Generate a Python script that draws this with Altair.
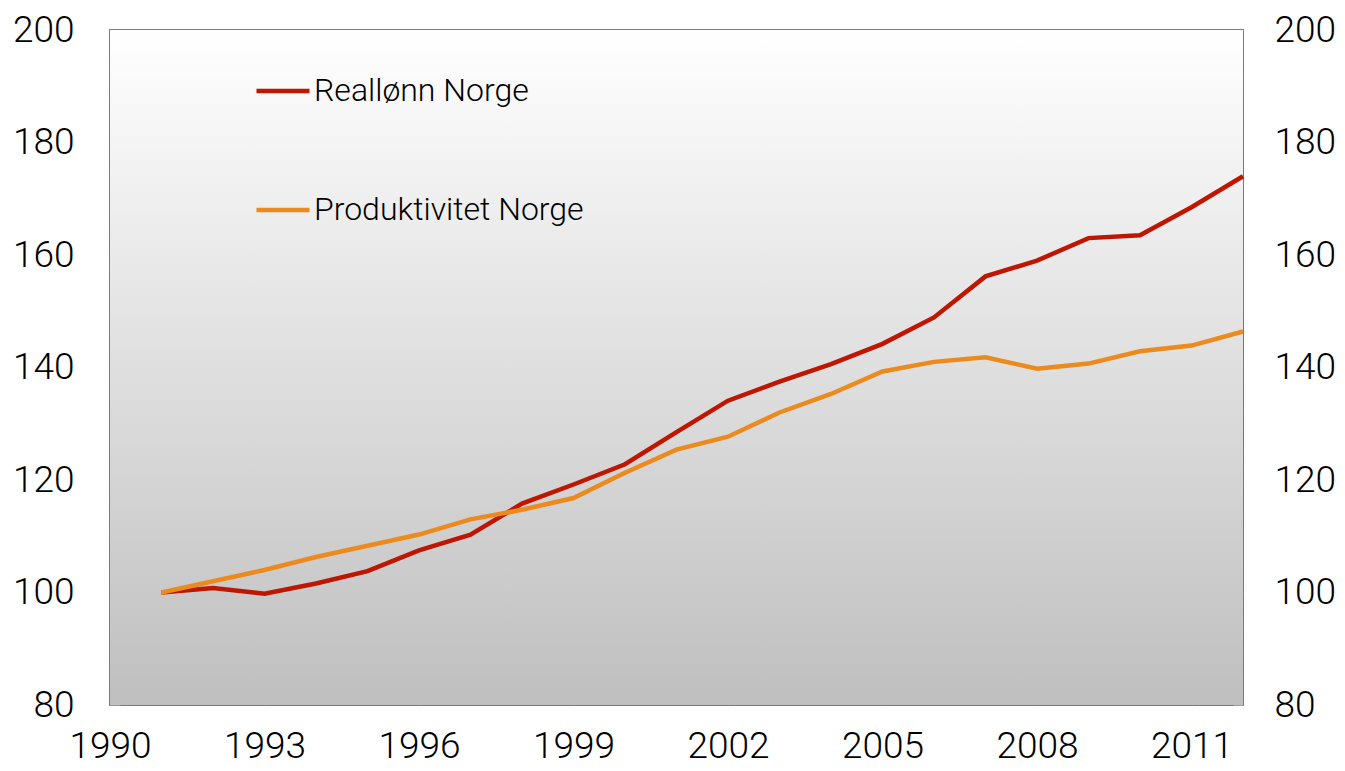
import altair as alt
import pandas as pd

years = list(range(1991, 2013))
reallonn = [100.0, 100.8, 99.8, 101.6, 103.8, 107.5, 110.3, 115.8, 119.2, 122.8, 128.5,
            134.1, 137.5, 140.6, 144.2, 148.9, 156.2, 159.0, 163.0, 163.5, 168.5, 174.0]
produktivitet = [100.0, 102.0, 104.0, 106.3, 108.3, 110.3, 113.0, 114.7, 116.8, 121.3, 125.4,
                 127.7, 132.0, 135.3, 139.3, 141.0, 141.8, 139.8, 140.7, 142.9, 143.9, 146.4]
series_names = ["Reallønn Norge", "Produktivitet Norge"]
series_colors = ["#BE1600", "#EC8A1E"]
x_ticks = [1990, 1993, 1996, 1999, 2002, 2005, 2008, 2011]
y_ticks = [80, 100, 120, 140, 160, 180, 200]

rows = []
for name, vals in zip(series_names, [reallonn, produktivitet]):
    for yr, v in zip(years, vals):
        rows.append({"year": yr, "value": v, "series": name})
df = pd.DataFrame(rows)

FONT = "Roboto"
x_scale = alt.Scale(domain=[1990, 2012], nice=False, zero=False)
x_enc = alt.X("year:Q", scale=x_scale,
              axis=alt.Axis(values=x_ticks, format="d", title=None, grid=False,
                            labelFontSize=37, labelPadding=33, labelFont=FONT,
                            labelFontWeight=300, labelColor="#000",
                            tickSize={"expr": "-10"}, tickColor="#999", tickWidth=1,
                            domain=False, labelFlush=False))
y_scale = alt.Scale(domain=[80, 200], nice=False, zero=False)

gradient = alt.LinearGradient(
    gradient="linear", x1=0, y1=0, x2=0, y2=1,
    stops=[alt.GradientStop(offset=0, color="#ffffff"),
           alt.GradientStop(offset=1, color="#bfbfbf")])

bg = alt.Chart(pd.DataFrame({"k": [0]})).mark_rect(fill=gradient, strokeWidth=0).encode(
    x=alt.value(0), x2=alt.value("width"), y=alt.value(0), y2=alt.value("height"))

base = alt.Chart(df)
lines = base.mark_line(strokeWidth=4.5).encode(
    x=x_enc,
    y=alt.Y("value:Q", scale=y_scale,
            axis=alt.Axis(values=y_ticks, orient="left", title=None, grid=False,
                          labelFontSize=37, labelPadding=46, labelFont=FONT,
                          labelFontWeight=300, labelColor="#000",
                          tickSize={"expr": "-10"}, tickColor="#999", tickWidth=1,
                          domain=False)),
    color=alt.Color("series:N",
                    scale=alt.Scale(domain=series_names, range=series_colors),
                    legend=alt.Legend(orient="none", legendX=144, legendY=32, title=None,
                                      symbolType="stroke", symbolSize=2809,
                                      symbolStrokeWidth=4.5, labelFontSize=32,
                                      labelFont=FONT, labelFontWeight=300,
                                      labelColor="#000", labelOffset=2, labelLimit=0,
                                      rowPadding=74, padding=0)),
)
right = base.mark_line(opacity=0).encode(
    x=x_enc,
    y=alt.Y("value:Q", scale=y_scale,
            axis=alt.Axis(values=y_ticks, orient="right", title=None, grid=False,
                          labelFontSize=37, labelPadding=41, labelFont=FONT,
                          labelFontWeight=300, labelColor="#000",
                          tickSize={"expr": "-10"}, tickColor="#999", tickWidth=1,
                          domain=False)),
    detail="series:N",
)

chart = alt.layer(bg, lines, right).resolve_axis(y="independent").properties(
    width=1133, height=675,
    autosize=alt.AutoSizeParams(type="none"),
    padding={"left": 102, "top": 22, "right": 94, "bottom": 58},
).configure_view(stroke="#7a7a7a", strokeWidth=2)

chart.save("out.html", embed_options={"renderer": "svg", "actions": False})
